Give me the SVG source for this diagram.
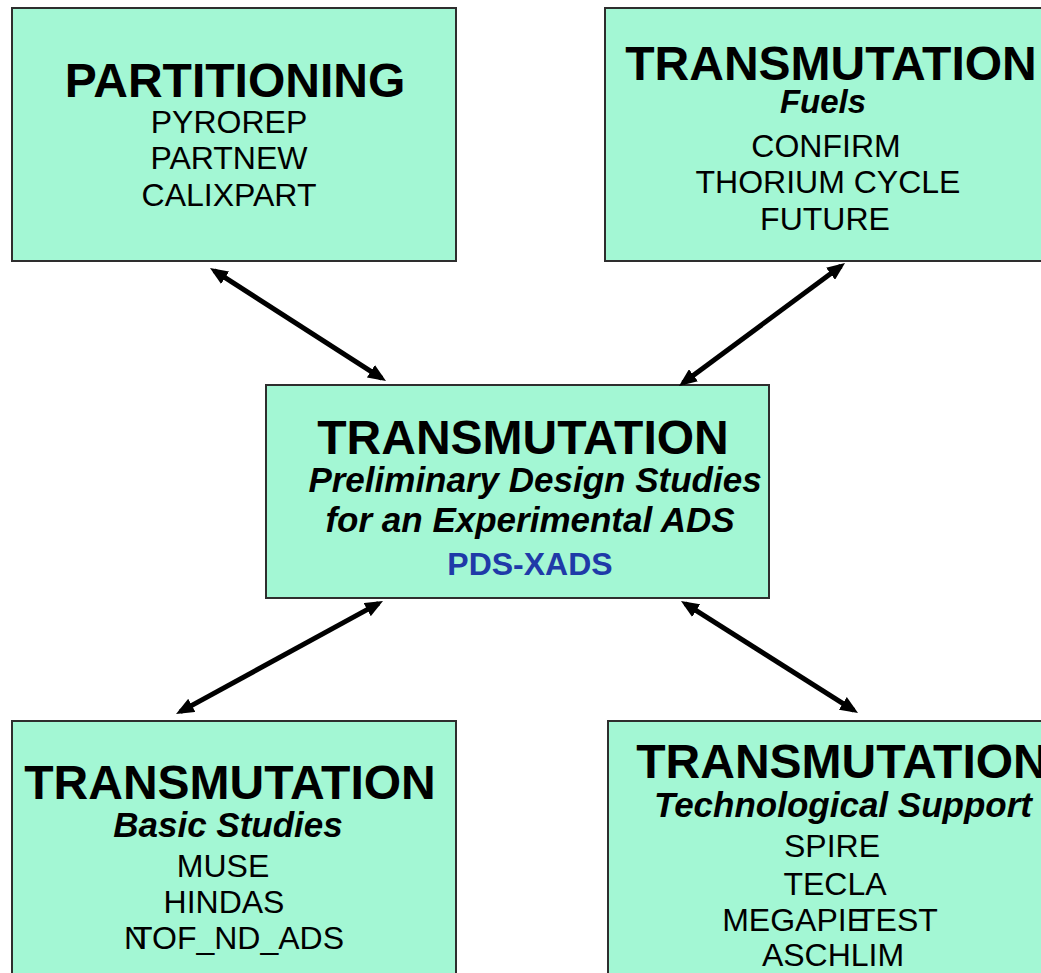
<svg xmlns="http://www.w3.org/2000/svg" width="1041" height="973" viewBox="0 0 1041 973">
<defs>
<style>
.box{fill:#a3f7d4;stroke:#2e2e2e;stroke-width:2}
.t{font-family:"Liberation Sans",Arial,sans-serif;text-anchor:middle;fill:#000}
.h{font-size:48px;font-weight:bold}
.s{font-size:35px;font-weight:bold;font-style:italic}
.r{font-size:32px}
.b{font-size:32px;font-weight:bold;fill:#1f3aa8}
.c{stroke:#000;stroke-width:5;fill:none;marker-start:url(#ah);marker-end:url(#ah)}
</style>
<marker id="ah" markerUnits="userSpaceOnUse" markerWidth="18" markerHeight="15" viewBox="0 0 18 15" refX="13" refY="7.5" orient="auto-start-reverse">
<path d="M0,0 L18,7.5 L0,15 z" fill="#000"/>
</marker>
</defs>
<rect width="1041" height="973" fill="#fff"/>
<g id="partitioning">
<rect class="box" x="12" y="8" width="444" height="253"/>
<text class="t h" x="235" y="97">PARTITIONING</text>
<text class="t r" x="229" y="133">PYROREP</text>
<text class="t r" x="229" y="169">PARTNEW</text>
<text class="t r" x="229" y="206">CALIXPART</text>
</g>
<g id="fuels">
<rect class="box" x="605" y="8" width="444" height="253"/>
<text class="t h" x="831" y="80">TRANSMUTATION</text>
<text class="t s" x="823" y="113" style="font-size:33px">Fuels</text>
<text class="t r" x="826" y="157">CONFIRM</text>
<text class="t r" x="828" y="193">THORIUM CYCLE</text>
<text class="t r" x="825" y="230">FUTURE</text>
</g>
<g id="pdsxads">
<rect class="box" x="266" y="385" width="503" height="213"/>
<text class="t h" x="523" y="454">TRANSMUTATION</text>
<text class="t s" x="535" y="492">Preliminary Design Studies</text>
<text class="t s" x="530" y="532">for an Experimental ADS</text>
<text class="t b" x="530" y="575">PDS-XADS</text>
</g>
<g id="basic">
<rect class="box" x="12" y="721" width="444" height="260"/>
<text class="t h" x="230" y="799">TRANSMUTATION</text>
<text class="t s" x="228" y="837">Basic Studies</text>
<text class="t r" x="223" y="877">MUSE</text>
<text class="t r" x="224" y="913">HINDAS</text>
<text class="t r" x="234" y="949">N<tspan dx="-14">TOF_ND_ADS</tspan></text>
</g>
<g id="techsupport">
<rect class="box" x="608" y="721" width="444" height="260"/>
<text class="t h" x="842" y="778">TRANSMUTATION</text>
<text class="t s" x="843" y="817">Technological Support</text>
<text class="t r" x="832" y="857">SPIRE</text>
<text class="t r" x="835" y="895">TECLA</text>
<text class="t r" x="830" y="931">MEGAPIE<tspan dx="-12">TEST</tspan></text>
<text class="t r" x="833" y="966">ASCHLIM</text>
</g>
<g id="connectors">
<line class="c" x1="214.2" y1="270.7" x2="381.8" y2="378.3"/>
<line class="c" x1="841" y1="266" x2="683" y2="383"/>
<line class="c" x1="378.6" y1="603.4" x2="180.4" y2="711.6"/>
<line class="c" x1="685.2" y1="603.7" x2="853.8" y2="710.3"/>
</g>
</svg>
